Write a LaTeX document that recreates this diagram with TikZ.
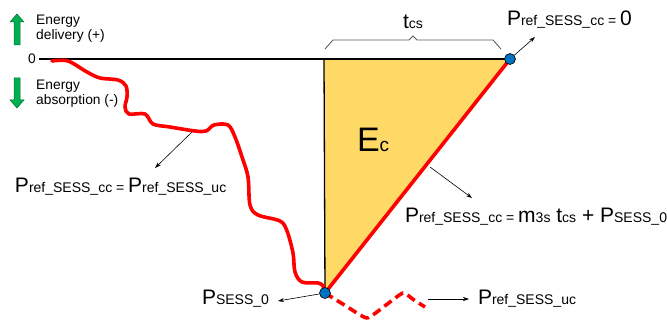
\documentclass[tikz,border=0pt]{standalone}
\usepackage{fontspec}
\setmainfont{Liberation Sans}
\usetikzlibrary{arrows.meta}
\definecolor{fillyel}{RGB}{255,217,102}
\definecolor{dotblue}{RGB}{0,112,192}
\definecolor{arrgreen}{RGB}{0,176,80}
\definecolor{arrgreendk}{RGB}{0,110,50}
\definecolor{redline}{RGB}{255,0,0}
\definecolor{bracegray}{RGB}{90,90,90}
\newcommand{\bigf}[1]{{\fontsize{21}{21}\selectfont #1}}
\newcommand{\smf}[1]{{\fontsize{14}{14}\selectfont #1}}
\tikzset{
  lbl/.style={anchor=base west, inner sep=0pt, outer sep=0pt},
  smalltxt/.style={anchor=west, inner sep=0pt, align=left, font=\fontsize{13.8}{15}\selectfont},
  redpath/.style={draw=redline, line width=3.6pt, line cap=round, line join=round},
  pointer/.style={draw=black, line width=0.6pt, -{Stealth[length=6pt,width=4pt]}},
  bluedot/.style={circle, fill=dotblue, draw=black, line width=0.6pt, minimum size=11pt, inner sep=0pt},
  greenarr/.style={fill=arrgreen, draw=arrgreendk, line width=0.5pt},
}
\begin{document}
\begin{tikzpicture}[x=1pt,y=-1pt]
\useasboundingbox (0,0) rectangle (667,323);
% triangle
\coordinate (tl) at (324,59);
\coordinate (tr) at (510,59);
\coordinate (bl) at (325,293);
\fill[fillyel] (tl) -- (tr) -- (bl) -- cycle;
% axis
\node[anchor=east, inner sep=0pt, font=\fontsize{13.8}{15}\selectfont] (zero) at (36,59) {0};
\coordinate (axs) at (39,59);
\draw[line width=2pt] (axs) -- (tr);
\draw[line width=1.3pt] (tl) -- (bl);
% red wavy curve
\draw[redpath] plot[smooth, tension=0.55] coordinates {
 (52,61) (68,61) (87,72) (100,78) (118,80) (126,86) (127,97) (125,107) (129,114) (145,114) (153,124) (170,127) (195,131) (206,131) (214,125) (228,125) (235,137) (242,157) (248,177) (250,205) (258,215) (280,221) (287,231) (293,253) (295,272) (302,282) (318,283) (323,286) (325,293)};
% red straight
\draw[redpath] (bl) -- (tr);
% dashed red
\draw[redpath, dash pattern=on 9pt off 5pt, line cap=butt] plot[smooth, tension=0.3] coordinates {(325,293) (346,306) (367,318) (386,305) (403,293) (414,300) (425,307)};
% dots
\node[bluedot] (dtop) at (tr) {};
\node[bluedot] (dbot) at (bl) {};
% brace
\coordinate (b1) at (325,49);
\coordinate (b2) at (501,49);
\draw[bracegray, line width=0.8pt, line join=round] (b1) -- (333,40) -- (409,40) -- (413,36) -- (417,40) -- (493,40) -- (b2);
\node[lbl] (tcs) at (403,29) {\bigf{t}\smf{cs}};
% labels
\node[lbl] (p0) at (507,26) {\bigf{P}\smf{ref\_SESS\_cc = }\bigf{0}};
\coordinate (p0a) at (535,37);
\draw[pointer] (dtop) -- (p0a);
\node[lbl] (ec) at (357,152) {{\fontsize{34}{34}\selectfont E}{\fontsize{19}{19}\selectfont c}};
\node[lbl] (pform) at (405,223) {\bigf{P}\smf{ref\_SESS\_cc = }\bigf{m}\smf{3s}\bigf{ t}\smf{cs}\bigf{ + P}\smf{SESS\_0}};
\coordinate (fa1) at (430,167);
\coordinate (fa2) at (472,198);
\draw[pointer] (fa1) -- (fa2);
\node[lbl] (pequal) at (15,193) {\bigf{P}\smf{ref\_SESS\_cc = }\bigf{P}\smf{ref\_SESS\_uc}};
\coordinate (ea1) at (192,132);
\coordinate (ea2) at (155,168);
\draw[pointer] (ea1) -- (ea2);
\node[lbl] (psess) at (202,305) {\bigf{P}\smf{SESS\_0}};
\coordinate (sa2) at (278,301);
\draw[pointer] (dbot) -- (sa2);
\node[lbl] (puc) at (478,305) {\bigf{P}\smf{ref\_SESS\_uc}};
\coordinate (ua1) at (428,299);
\coordinate (ua2) at (469,299);
\draw[pointer] (ua1) -- (ua2);
% green arrows
\draw[greenarr] (14,45) -- (20,45) -- (20,22) -- (24,22) -- (17,14) -- (10,22) -- (14,22) -- cycle;
\draw[greenarr] (14,78) -- (20,78) -- (20,100) -- (24,100) -- (17,108) -- (10,100) -- (14,100) -- cycle;
\node[smalltxt] (edel) at (36,29) {Energy\\delivery (+)};
\node[smalltxt] (eabs) at (36,94) {Energy\\absorption (-)};
\end{tikzpicture}
\end{document}
